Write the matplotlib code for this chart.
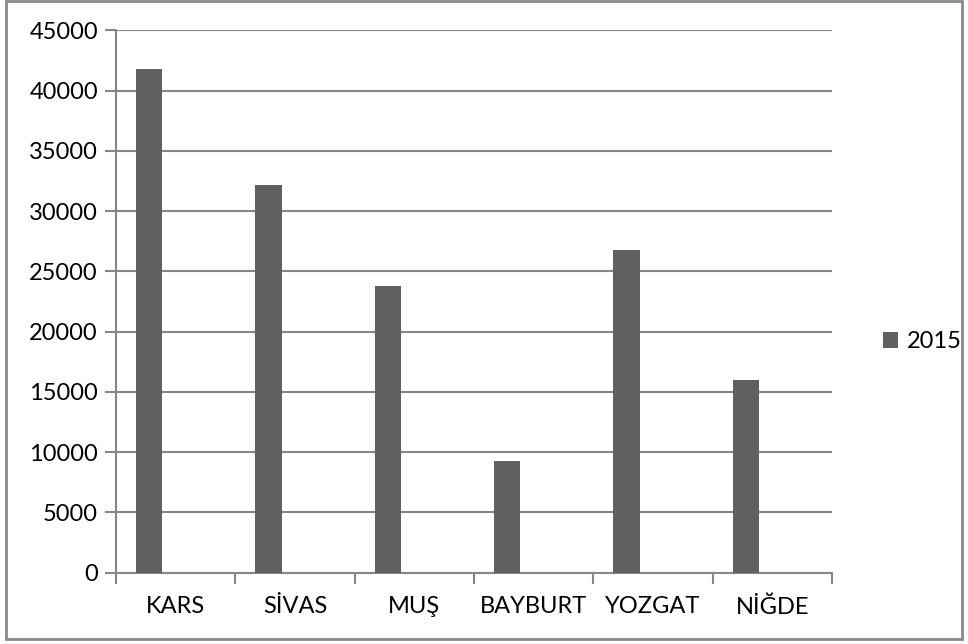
import matplotlib
matplotlib.use("Agg")
import matplotlib.pyplot as plt
from matplotlib.patches import Rectangle, Patch
import numpy as np

categories = ["KARS", "SİVAS", "MUŞ", "BAYBURT", "YOZGAT", "NİĞDE"]
values_2015 = [41800, 32200, 23800, 9300, 26800, 15950]
series_name = "2015"
yticks = [0, 5000, 10000, 15000, 20000, 25000, 30000, 35000, 40000, 45000]

plt.rcParams['font.family'] = ['Lato', 'DejaVu Sans']
FS = 17

fig = plt.figure(figsize=(9.68, 6.44), dpi=100)
ax = fig.add_axes([116/968, 1-572.7/644, (832-116)/968, (572.7-30.3)/644])

bar_color = "#606060"
grid_color = "#878787"
x = np.arange(len(categories))
ax.bar(x + 0.278, values_2015, width=0.22, color=bar_color, zorder=3, label=series_name)

ax.set_xlim(0, len(categories))
ax.set_ylim(0, 45000)
ax.set_yticks(yticks)
ax.set_yticklabels([str(v) for v in yticks], fontsize=FS)
ax.yaxis.grid(True, color=grid_color, linewidth=1.5, zorder=0)
ax.tick_params(axis='y', length=8, width=1.5, color=grid_color, pad=5)

ax.set_xticks(np.arange(len(categories) + 1))
ax.set_xticklabels([])
ax.set_xticks(x + 0.5, minor=True)
ax.set_xticklabels(categories, minor=True, fontsize=FS)
ax.tick_params(axis='x', which='major', length=8, width=1.5, color=grid_color)
ax.tick_params(axis='x', which='minor', length=0, pad=17)

for s in ['top', 'right']:
    ax.spines[s].set_visible(False)
for s in ['left', 'bottom']:
    ax.spines[s].set_color(grid_color)
    ax.spines[s].set_linewidth(1.5)

handles = [Patch(facecolor=bar_color, label=series_name)]
fig.legend(handles=handles, loc='center left', bbox_to_anchor=(883/968, 1-342/644),
           frameon=False, fontsize=FS, handlelength=0.65, handleheight=0.65,
           handletextpad=0.35, borderpad=0, borderaxespad=0)

fig.patches.append(Rectangle((6/968, 1-639/644), (962-6)/968, (639-1)/644,
                             transform=fig.transFigure, fill=False,
                             edgecolor="#8a8a8a", linewidth=2))

fig.savefig("out.png", dpi=100)
